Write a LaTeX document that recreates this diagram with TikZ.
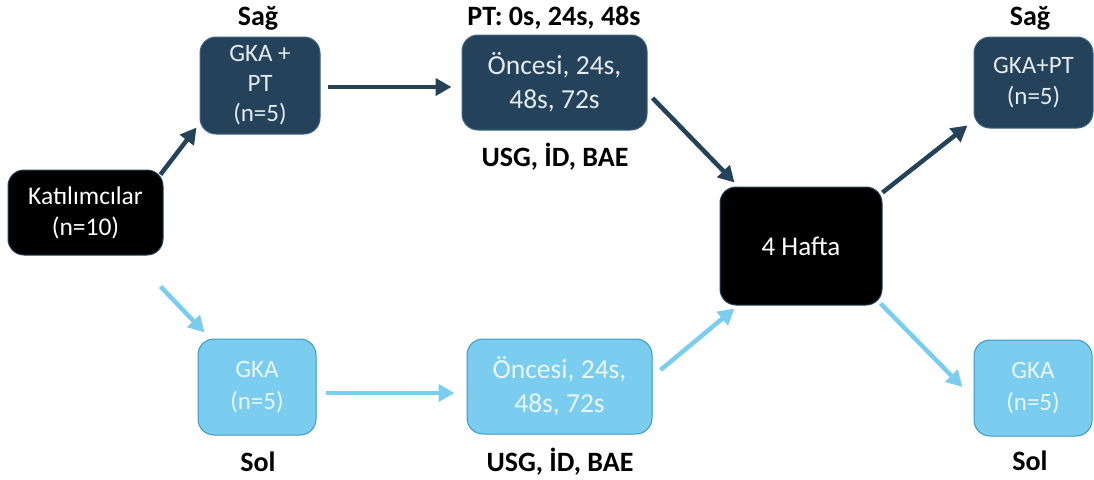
\documentclass[tikz,border=0pt]{standalone}
\usepackage{fontspec}
\setmainfont{Carlito}
\usetikzlibrary{arrows.meta,calc}
\definecolor{darkbox}{HTML}{24435A}
\definecolor{darkedge}{HTML}{3A6584}
\definecolor{lightbox}{HTML}{7ACDEE}
\definecolor{lightedge}{HTML}{3B98C2}
\definecolor{lighttext}{HTML}{EAF6FB}
\definecolor{darktext}{HTML}{E4EAEE}
\tikzset{
  x=1pt, y=1pt,
  box/.style={rectangle, rounded corners=16pt, inner sep=0pt, align=center, line width=1pt},
  blackbox/.style={box, fill=black, draw=darkbox, text=white},
  dbox/.style={box, fill=darkbox, draw=darkedge, text=darktext},
  lbox/.style={box, fill=lightbox, draw=lightedge, text=lighttext},
  lbl/.style={font=\fontsize{28}{33}\selectfont\bfseries, text=black, inner sep=0pt},
  darr/.style={line width=4.5pt, draw=darkbox, -{Triangle[length=16pt,width=17pt]}},
  larr/.style={line width=4.5pt, draw=lightbox, -{Triangle[length=16pt,width=17pt]}},
}
\begin{document}
\begin{tikzpicture}
\useasboundingbox (0,0) rectangle (1094,-479);
% nodes
\node[blackbox, minimum width=155pt, minimum height=85pt, font=\fontsize{25.5}{31}\selectfont] (kat) at (85.5,-212.5) {Katılımcılar\\(n=10)};
\node[dbox, minimum width=120pt, minimum height=97pt, font=\fontsize{25}{30}\selectfont] (gkaT) at (260,-85.5) {GKA +\\PT\\(n=5)};
\node[dbox, minimum width=185pt, minimum height=95pt, font=\fontsize{27.5}{34}\selectfont] (oncT) at (554.5,-82.5) {Öncesi, 24s,\\48s, 72s};
\node[blackbox, minimum width=162pt, minimum height=118pt, font=\fontsize{27}{32}\selectfont] (hafta) at (801,-246) {4 Hafta};
\node[dbox, minimum width=119pt, minimum height=91pt, font=\fontsize{25}{31}\selectfont] (rT) at (1033.5,-82.5) {GKA+PT\\(n=5)};
\node[lbox, minimum width=118pt, minimum height=96pt, font=\fontsize{25}{32}\selectfont] (gkaB) at (257,-387) {GKA\\(n=5)};
\node[lbox, minimum width=185pt, minimum height=95pt, font=\fontsize{27.5}{34}\selectfont] (oncB) at (559.5,-386.5) {Öncesi, 24s,\\48s, 72s};
\node[lbox, minimum width=118pt, minimum height=96pt, font=\fontsize{25}{32}\selectfont] (rB) at (1033,-388) {GKA\\(n=5)};
% labels
\node[lbl] (l1) at (258,-18) {Sağ};
\node[lbl] (l2) at (554,-18) {PT: 0s, 24s, 48s};
\node[lbl] (l3) at (555,-157) {USG, İD, BAE};
\node[lbl] (l4) at (1030,-18) {Sağ};
\node[lbl] (l5) at (258,-462) {Sol};
\node[lbl] (l6) at (560,-462) {USG, İD, BAE};
\node[lbl] (l7) at (1030,-461) {Sol};
% arrows
\draw[darr] ($(kat.north east)+(-3,-5)$) -- ($(gkaT.south west)+(-3,7)$);
\draw[larr] ($(kat.south east)+(-3,-31)$) -- ($(gkaB.north west)+(7,6)$);
\draw[darr] ($(gkaT.east)+(7,-1.5)$) -- ($(oncT.west)+(-10,-4.5)$);
\draw[larr] ($(gkaB.east)+(9,-6)$) -- ($(oncB.west)+(-12,-6.5)$);
\draw[darr] ($(oncT.east)+(5,-15.5)$) -- ($(hafta.north west)+(15,4)$);
\draw[larr] ($(oncB.east)+(8,16.5)$) -- ($(hafta.south west)+(15,-3)$);
\draw[darr] ($(hafta.north east)+(0,-6)$) -- ($(rT.south west)+(-6,3)$);
\draw[larr] ($(hafta.south east)+(-2,2)$) -- ($(rB.west)+(-11,1)$);
\end{tikzpicture}
\end{document}
